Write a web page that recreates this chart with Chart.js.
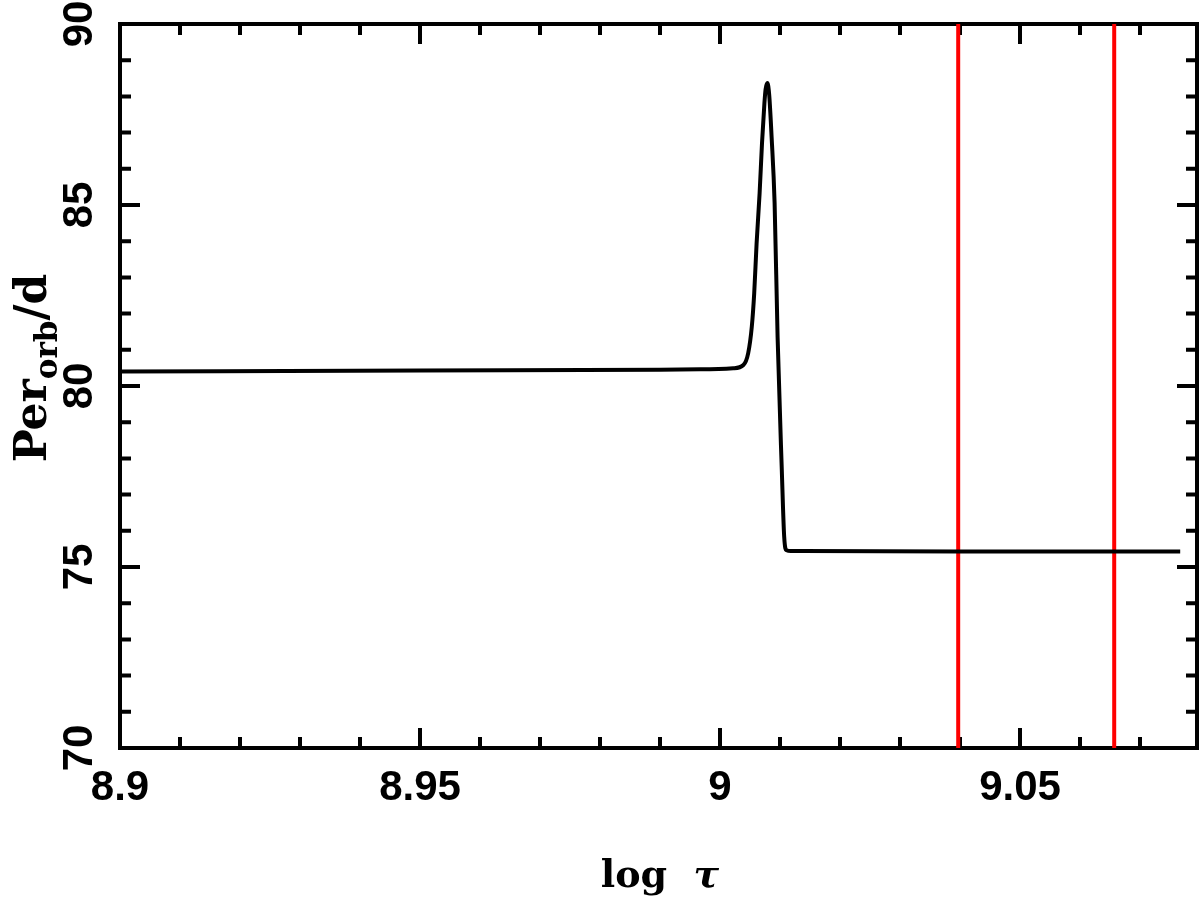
<!DOCTYPE html>
<html>
<head>
<meta charset="utf-8">
<script src="https://cdn.jsdelivr.net/npm/chart.js@4/dist/chart.umd.min.js"></script>
<style>
  html, body { margin: 0; padding: 0; background: #fff; }
  canvas { display: block; }
</style>
</head>
<body>
<canvas id="chart" width="1200" height="897"></canvas>
<script>
// orbital period vs log age
const logTau = [8.9, 8.95, 8.99, 8.9967, 9.0022, 9.0039, 9.0047, 9.0053, 9.0057, 9.0061, 9.0066,
    9.0070, 9.0074, 9.0076, 9.0079, 9.0082, 9.0086, 9.0091, 9.0096, 9.0103, 9.0107, 9.0111,
    9.0118, 9.0133, 9.04, 9.0767];
const perOrb = [80.40, 80.43, 80.45, 80.46, 80.49, 80.58, 80.91, 81.64, 82.56, 83.94, 85.32,
    86.70, 87.81, 88.20, 88.37, 88.04, 86.88, 85.06, 81.35, 77.68, 75.83, 75.46,
    75.44, 75.44, 75.43, 75.43];

// vertical markers
const redLines = [9.0397, 9.0657];

// axis ranges and tick labels
const xRange = [8.9, 9.0795];
const yRange = [70, 90];
const xTickLabels = ['8.9', '8.95', '9', '9.05'];
const yTickLabels = ['70', '75', '80', '85', '90'];

const framePlugin = {
    id: 'frame',
    beforeDatasetsDraw(chart) {
        const ctx = chart.ctx;
        const a = chart.chartArea;
        const xs = chart.scales.x;
        const ys = chart.scales.y;
        ctx.save();
        ctx.strokeStyle = '#000';
        ctx.lineWidth = 4;
        ctx.lineCap = 'butt';

        // x ticks, every 0.01, bottom and top
        for (let k = 0; k <= 17; k++) {
            const px = xs.getPixelForValue(8.9 + k / 100);
            const len = k % 5 === 0 ? 20 : 11;
            ctx.beginPath();
            ctx.moveTo(px, a.bottom); ctx.lineTo(px, a.bottom - len);
            ctx.moveTo(px, a.top); ctx.lineTo(px, a.top + len);
            ctx.stroke();
        }
        // y ticks, every 1, left and right
        for (let v = yRange[0]; v <= yRange[1]; v++) {
            const py = ys.getPixelForValue(v);
            const len = v % 5 === 0 ? 20 : 11;
            ctx.beginPath();
            ctx.moveTo(a.left, py); ctx.lineTo(a.left + len, py);
            ctx.moveTo(a.right, py); ctx.lineTo(a.right - len, py);
            ctx.stroke();
        }
        ctx.strokeRect(a.left, a.top, a.right - a.left, a.bottom - a.top);

        // tick labels
        ctx.fillStyle = '#000';
        ctx.font = 'bold 42px "Liberation Sans"';
        ctx.textAlign = 'center';
        ctx.textBaseline = 'middle';
        xTickLabels.forEach(t => {
            ctx.fillText(t, xs.getPixelForValue(parseFloat(t)), a.bottom + 40);
        });
        yTickLabels.forEach(t => {
            ctx.save();
            ctx.translate(a.left - 40, ys.getPixelForValue(parseFloat(t)));
            ctx.rotate(-Math.PI / 2);
            ctx.fillText(t, 0, 0);
            ctx.restore();
        });

        // x title
        ctx.textBaseline = 'alphabetic';
        ctx.textAlign = 'left';
        const f1 = 'bold 38px "DejaVu Serif"';
        const f2 = 'bold italic 38px "DejaVu Serif"';
        ctx.font = f1;
        const wLog = ctx.measureText('log  ').width;
        ctx.font = f2;
        const wTau = ctx.measureText('τ').width;
        let x0 = 660 - (wLog + wTau) / 2;
        ctx.font = f1;
        ctx.fillText('log  ', x0, 887);
        ctx.font = f2;
        ctx.fillText('τ', x0 + wLog, 887);

        // y title, rotated
        ctx.save();
        ctx.translate(46, 368);
        ctx.rotate(-Math.PI / 2);
        const fMain = 'bold 44px "DejaVu Serif"';
        const fSub = 'bold 31px "DejaVu Serif"';
        ctx.font = fMain;
        const wPer = ctx.measureText('Per').width;
        const wD = ctx.measureText('/d').width;
        ctx.font = fSub;
        const wOrb = ctx.measureText('orb').width;
        let s = -(wPer + wOrb + wD) / 2;
        ctx.font = fMain;
        ctx.fillText('Per', s, 0);
        ctx.font = fSub;
        ctx.fillText('orb', s + wPer, 11);
        ctx.font = fMain;
        ctx.fillText('/d', s + wPer + wOrb, 0);
        ctx.restore();

        ctx.restore();
    }
};

const datasets = [{
    data: logTau.map((x, i) => ({ x: x, y: perOrb[i] })),
    showLine: true,
    borderColor: '#000',
    borderWidth: 4,
    pointRadius: 0,
    cubicInterpolationMode: 'monotone'
}];
redLines.forEach(x => {
    datasets.push({
        data: [{ x: x, y: yRange[0] }, { x: x, y: yRange[1] }],
        showLine: true,
        borderColor: '#ff0000',
        borderWidth: 4,
        pointRadius: 0,
        clip: 4
    });
});

new Chart(document.getElementById('chart').getContext('2d'), {
    type: 'scatter',
    data: { datasets: datasets },
    options: {
        responsive: false,
        animation: false,
        devicePixelRatio: 1,
        layout: { padding: { top: 24, right: 3, left: 0, bottom: 0 } },
        plugins: { legend: { display: false }, tooltip: { enabled: false } },
        scales: {
            x: {
                type: 'linear', min: xRange[0], max: xRange[1],
                ticks: { display: false }, grid: { display: false }, border: { display: false },
                afterFit: s => { s.height = 149; }
            },
            y: {
                type: 'linear', min: yRange[0], max: yRange[1],
                ticks: { display: false }, grid: { display: false }, border: { display: false },
                afterFit: s => { s.width = 120; }
            }
        }
    },
    plugins: [framePlugin]
});
</script>
</body>
</html>
